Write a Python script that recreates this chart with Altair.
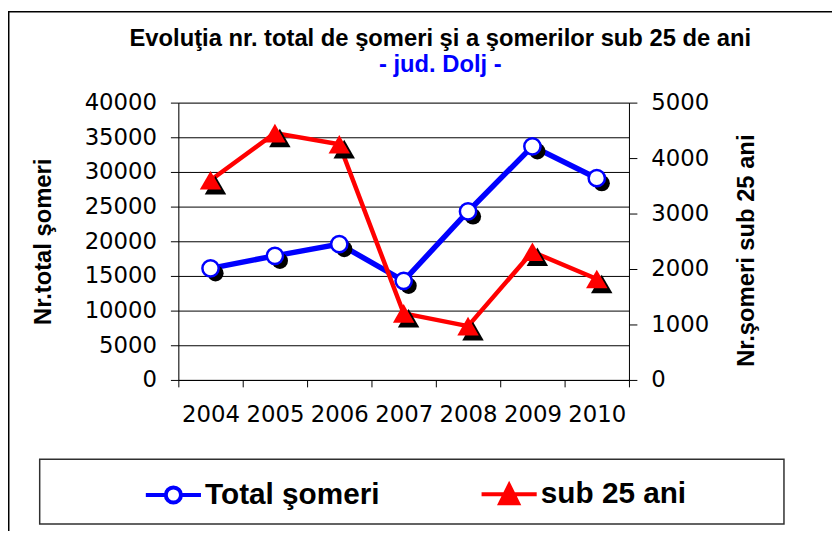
import altair as alt
import pandas as pd

years = ["2004", "2005", "2006", "2007", "2008", "2009", "2010"]
total_someri = [16100, 17900, 19600, 14300, 24300, 33700, 29100]
sub_25_ani = [3600, 4450, 4250, 1200, 970, 2310, 1820]
series_names = ["Total şomeri", "sub 25 ani"]
left_ticks = [0, 5000, 10000, 15000, 20000, 25000, 30000, 35000, 40000]
right_ticks = [0, 1000, 2000, 3000, 4000, 5000]

df = pd.DataFrame({"an": years, "total": total_someri, "sub25": sub_25_ani})
legend_df = pd.DataFrame({"serie": series_names})
frame_df = pd.DataFrame({"k": [0]})

BLUE = "#0000FF"
RED = "#FF0000"
TICK_FONT = "DejaVu Sans"
BOLD_FONT = "Liberation Sans"

x_enc = alt.X(
    "an:O",
    sort=years,
    scale=alt.Scale(type="band", paddingInner=0, paddingOuter=0),
    axis=alt.Axis(
        title=None, labelAngle=0, labelFont=TICK_FONT, labelFontSize=23,
        labelColor="black", tickBand="extent", tickSize=7, tickColor="black",
        domainColor="black", labelPadding=17, grid=False, labelOverlap=False,
    ),
)

y_left = alt.Y(
    "total:Q",
    scale=alt.Scale(domain=[0, 40000], nice=False),
    axis=alt.Axis(
        values=left_ticks, format="d", orient="left",
        title="Nr.total şomeri", titleFont=BOLD_FONT, titleFontSize=24,
        titleFontWeight="bold", titleColor="black", titleAngle=270,
        titleBaseline="alphabetic", titleX=-129, titleY=140,
        labelFont=TICK_FONT, labelFontSize=23, labelColor="black",
        labelPadding=14, tickSize=8, tickColor="black", domainColor="black",
        grid=True, gridColor="black", gridWidth=1, gridOpacity=1,
    ),
)

y_right = alt.Y(
    "sub25:Q",
    scale=alt.Scale(domain=[0, 5000], nice=False),
    axis=alt.Axis(
        values=right_ticks, format="d", orient="right",
        title="Nr.şomeri sub 25 ani", titleFont=BOLD_FONT, titleFontSize=24,
        titleFontWeight="bold", titleColor="black", titleAngle=270,
        titleBaseline="alphabetic", titleX=126, titleY=149,
        labelFont=TICK_FONT, labelFontSize=23, labelColor="black",
        labelPadding=14, tickSize=8, tickColor="black", domainColor="black",
        grid=False,
    ),
)

base = alt.Chart(df)

blue_line = base.mark_line(color=BLUE, strokeWidth=5.5).encode(x=x_enc, y=y_left)
blue_shadow = base.mark_point(
    shape="circle", filled=True, color="black", size=270, opacity=1,
    xOffset=5, yOffset=5,
).encode(x=x_enc, y=y_left)
blue_pts = base.mark_point(
    shape="circle", filled=True, fill="white", stroke=BLUE, strokeWidth=2.5,
    size=270, opacity=1,
).encode(x=x_enc, y=y_left)
left_layer = alt.layer(blue_line, blue_shadow, blue_pts)

red_line = base.mark_line(color=RED, strokeWidth=4.5).encode(x=x_enc, y=y_right)
red_shadow = base.mark_point(
    shape="triangle-up", filled=True, color="black", size=470, opacity=1,
    strokeWidth=0, xOffset=5, yOffset=5,
).encode(x=x_enc, y=y_right)
red_pts = base.mark_point(
    shape="triangle-up", filled=True, color=RED, size=470, opacity=1,
    strokeWidth=0,
).encode(x=x_enc, y=y_right)
right_layer = alt.layer(red_line, red_shadow, red_pts)

# legend symbols: line + marker
path_blue = "M-2,0H-0.55M0.55,0H2M-0.55,0A0.55,0.55 0 1,1 0.55,0A0.55,0.55 0 1,1 -0.55,0Z"
path_red = "M-2,0H2M0,-0.65L0.65,0.67L-0.65,0.67Z"

leg = alt.Legend(
    orient="none", legendX=-21, legendY=379, direction="horizontal",
    title=None, padding=0,
    labelFont=BOLD_FONT, labelFontSize=30, labelFontWeight="bold",
    labelColor="black", labelLimit=600, symbolSize=775, symbolStrokeWidth=4,
    labelOffset=16, columnPadding=94, symbolOpacity=1,
)

legend_layer = alt.Chart(legend_df).mark_point(
    filled=True, clip=True, opacity=1
).encode(
    x=alt.value(-400),
    y=alt.value(-400),
    shape=alt.Shape("serie:N", scale=alt.Scale(domain=series_names, range=[path_blue, path_red]), legend=leg),
    fill=alt.Fill("serie:N", scale=alt.Scale(domain=series_names, range=["white", RED]), legend=leg),
    stroke=alt.Stroke("serie:N", scale=alt.Scale(domain=series_names, range=[BLUE, RED]), legend=leg),
)

# decorative chart frame and legend box
frame = alt.Chart(frame_df).mark_rect(
    fillOpacity=0, stroke="black", strokeWidth=1.5
).encode(
    x=alt.value(-171.25), x2=alt.value(900), y=alt.value(-91.7), y2=alt.value(700)
)
legend_box = alt.Chart(frame_df).mark_rect(
    fill="white", stroke="#303030", strokeWidth=1.5
).encode(
    x=alt.value(-140), x2=alt.value(611.5), y=alt.value(360), y2=alt.value(425.5)
)

chart = alt.layer(frame, legend_box, left_layer, right_layer, legend_layer).resolve_scale(
    y="independent"
).properties(
    width=455,
    height=280,
    padding={"left": 172, "top": 93, "right": 205, "bottom": 150},
    autosize=alt.AutoSizeParams(type="none"),
    title=alt.TitleParams(
        text="Evoluţia nr. total de şomeri şi a şomerilor sub 25 de ani",
        subtitle="- jud. Dolj -",
        anchor="middle", dx=37, dy=77, offset=10,
        font=BOLD_FONT, fontSize=24, fontWeight="bold", color="black",
        subtitleFont=BOLD_FONT, subtitleFontSize=24, subtitleFontWeight="bold",
        subtitleColor=BLUE, subtitlePadding=3,
    ),
).configure_view(
    fill="#C0C0C0", stroke="#808080", strokeWidth=2
).configure(background="white")

chart.save("out.html", embed_options={"renderer": "svg", "actions": False})
